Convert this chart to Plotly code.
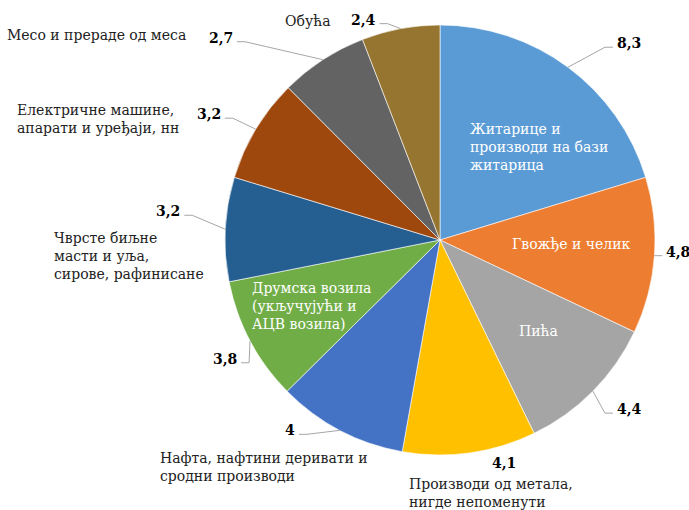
import math
import plotly.graph_objects as go

# data
categories = [
    "Житарице и производи на бази житарица",
    "Гвожђе и челик",
    "Пића",
    "Производи од метала, нигде непоменути",
    "Нафта, нафтини деривати и сродни производи",
    "Друмска возила (укључујући и АЦВ возила)",
    "Чврсте биљне масти и уља, сирове, рафинисане",
    "Електричне машине, апарати и уређаји, нн",
    "Месо и прераде од меса",
    "Обућа",
]
values = [8.3, 4.8, 4.4, 4.1, 4.0, 3.8, 3.2, 3.2, 2.7, 2.4]
value_text = ["8,3", "4,8", "4,4", "4,1", "4", "3,8", "3,2", "3,2", "2,7", "2,4"]
label_text = [
    "Житарице и<br>производи на бази<br>житарица",
    "Гвожђе и челик",
    "Пића",
    "Производи од метала,<br>нигде непоменути",
    "Нафта, нафтини деривати и<br>сродни производи",
    "Друмска возила<br>(укључујући и<br>АЦВ возила)",
    "Чврсте биљне<br>масти и уља,<br>сирове, рафинисане",
    "Електричне машине,<br>апарати и уређаји, нн",
    "Месо и прераде од меса",
    "Обућа",
]

COLORS = ["#5B9BD5", "#ED7D31", "#A5A5A5", "#FFC000", "#4472C4",
          "#70AD47", "#255E91", "#9E480E", "#636363", "#95752F"]
FONT = "'DejaVu Serif', serif"
FONT_SIZE = 14
W, H = 689, 510
CX, CY, R = 440, 240, 215          # pie centre and radius, pixels
LINE_COLOR = "#A6A6A6"

# leader elbow offset from the slice edge (dx, dy) and label side
LEADER = [(37, -20, 1), (0, 0, 1), (12, 22, 1), (0, 0, 0), (-33, 4, -1),
          (-1, 22, -1), (-33, -14, -1), (-23, -11, -1), (-78, -18, -1), (-13, -5, -1)]
# where the category names sit: (x, y, xanchor, colour)
NAME_POS = [(468, 147, "left", "white"), (571, 244, "center", "white"),
            (538, 331, "center", "white"), (407, 493, "left", "#222"),
            (158, 467, "left", "#222"), (250, 306, "left", "white"),
            (52, 256, "left", "#222"), (15, 119, "left", "#222"),
            (188, 35, "right", "#222"), (333, 21, "right", "#222")]


def px(x):
    return x / W


def py(y):
    return 1 - y / H


fig = go.Figure(go.Pie(
    labels=categories,
    values=values,
    sort=False,
    direction="clockwise",
    rotation=0,
    textinfo="none",
    hoverinfo="label+value",
    marker=dict(colors=COLORS, line=dict(color="white", width=0.6)),
    domain=dict(x=[px(CX - R), px(CX + R)], y=[py(CY + R), py(CY - R)]),
    showlegend=False,
))

annotations = []
shapes = []
total = sum(values)
cum = 0
for i, v in enumerate(values):
    mid = (cum + v / 2) / total * 2 * math.pi
    cum += v
    ex = CX + R * math.sin(mid)
    ey = CY - R * math.cos(mid)
    dx, dy, side = LEADER[i]
    bx, by = ex + dx, ey + dy
    if side == 0:
        # label right under the slice, no leader
        annotations.append(dict(x=px(ex + 34), y=py(ey + 10), text="<b>" + value_text[i] + "</b>",
                                xanchor="center", yanchor="middle", font=dict(color="black")))
    else:
        tx = bx + 8 * side
        shapes.append(dict(type="path", xref="paper", yref="paper",
                           path="M %f,%f L %f,%f L %f,%f" % (px(ex), py(ey), px(bx), py(by), px(tx), py(by)),
                           line=dict(color=LINE_COLOR, width=1)))
        annotations.append(dict(x=px(tx + 2 * side), y=py(by - 4), text="<b>" + value_text[i] + "</b>",
                                xanchor="left" if side > 0 else "right", yanchor="middle",
                                font=dict(color="black")))
    nx, ny, anchor, col = NAME_POS[i]
    annotations.append(dict(x=px(nx), y=py(ny), text=label_text[i], xanchor=anchor,
                            yanchor="middle", align=anchor, font=dict(color=col)))

for a in annotations:
    a.update(xref="paper", yref="paper", showarrow=False)
    a["font"] = dict(family=FONT, size=FONT_SIZE, color=a["font"]["color"])

fig.update_layout(
    width=W, height=H,
    margin=dict(l=0, r=0, t=0, b=0),
    paper_bgcolor="white",
    font=dict(family=FONT, size=FONT_SIZE),
    annotations=annotations,
    shapes=shapes,
)
fig.write_html("out.html", config={"displayModeBar": False})

# drop the default body margin so the figure sits at the page corner
with open("out.html", encoding="utf-8") as f:
    page = f.read()
page = page.replace("<head>", "<head><style>body{margin:0;}</style>", 1)
with open("out.html", "w", encoding="utf-8") as f:
    f.write(page)
